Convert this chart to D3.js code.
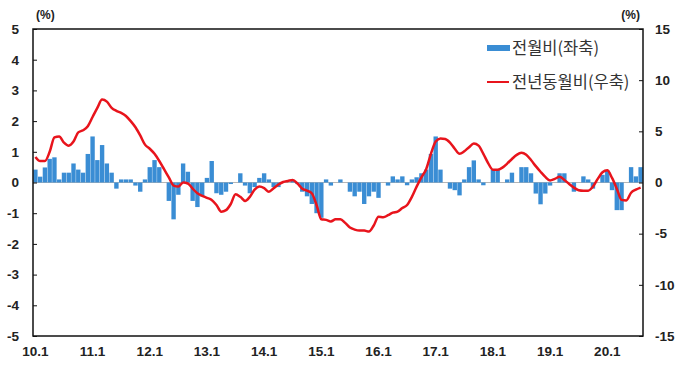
<!DOCTYPE html>
<html>
<head>
<meta charset="utf-8">
<script src="https://cdn.jsdelivr.net/npm/d3@7"></script>
<style>
  body { margin: 0; background: #fff; }
  .tick-lbl { font-family: "Liberation Sans", Arial, sans-serif; font-weight: bold; font-size: 13.5px; fill: #222; }
  .legend-lbl { font-family: "Noto Sans CJK KR", sans-serif; font-size: 16.5px; fill: #333; }
</style>
</head>
<body>
<div id="chart"></div>
<script>
// month categories 2010.1 .. 2020.8
var years = [10, 11, 12, 13, 14, 15, 16, 17, 18, 19, 20];
var months = [];
years.forEach(function(y) {
    for (var m = 1; m <= 12; m++) {
        if (y == 20 && m > 8) break;
        months.push(y + "." + m);
    }
});

var xTickLabels = ["10.1","11.1","12.1","13.1","14.1","15.1","16.1","17.1","18.1","19.1","20.1"];
var leftTicks = [-5,-4,-3,-2,-1,0,1,2,3,4,5];
var rightTicks = [-15,-10,-5,0,5,10,15];

// 전월비 (좌축, %)
var momValues = [
  0.42, 0.19, 0.49, 0.77, 0.82, 0.10, 0.32, 0.32, 0.62, 0.42, 0.32, 0.93,
  1.50, 0.73, 1.22, 0.62, 0.32, -0.20, 0.10, 0.10, 0.10, -0.10, -0.30, 0.10,
  0.50, 0.73, 0.50, 0.00, -0.60, -1.20, -0.40, 0.62, 0.35, -0.60, -0.80, -0.45,
  0.15, 0.70, -0.35, -0.40, -0.30, -0.05, 0.00, 0.30, -0.10, -0.35, -0.15, 0.15,
  0.30, 0.10, -0.15, -0.15, 0.00, 0.00, 0.08, -0.05, -0.30, -0.45, -0.70, -1.00,
  -1.15, 0.10, -0.10, 0.00, 0.10, 0.00, -0.30, -0.45, -0.30, -0.70, -0.45, -0.30,
  -0.50, 0.00, -0.10, 0.20, 0.10, 0.20, -0.09, 0.10, 0.17, 0.30, 0.42, 0.93,
  1.50, 0.42, 0.00, -0.20, -0.25, -0.42, 0.10, 0.50, 0.72, 0.10, -0.09, 0.00,
  0.42, 0.42, 0.00, 0.10, 0.32, 0.00, 0.50, 0.50, 0.30, -0.36, -0.71, -0.36,
  -0.10, 0.00, 0.30, 0.30, 0.00, -0.30, 0.00, 0.20, 0.10, -0.20, 0.00, 0.25,
  0.40, -0.25, -0.90, -0.90, 0.00, 0.50, 0.20, 0.50
];

// 전년동월비 (우축, %)
var yoyValues = [
  2.5, 2.1, 2.1, 3.0, 4.4, 4.5, 3.9, 3.6, 4.0, 4.9, 5.1, 5.5,
  6.4, 7.3, 8.1, 7.9, 7.3, 7.0, 6.8, 6.5, 6.0, 5.4, 4.6, 3.7,
  3.3, 2.8, 2.1, 1.3, 0.5, -0.3, -0.4, 0.0, -0.1, -0.6, -1.05, -1.3,
  -1.5, -1.7, -2.2, -2.85, -2.7, -2.1, -1.15, -1.4, -1.8, -1.4, -0.7, -0.4,
  -0.55, -0.9, -0.55, -0.2, 0.05, 0.15, 0.25, -0.1, -0.6, -0.8, -1.05, -2.2,
  -3.6, -3.65, -3.8, -3.6, -3.6, -3.95, -4.4, -4.6, -4.7, -4.7, -4.8, -4.2,
  -3.35, -3.4, -3.2, -2.95, -2.85, -2.5, -2.2, -1.4, -0.4, 0.5, 1.3, 2.8,
  4.0, 4.3, 4.25, 3.9, 3.3, 2.8, 3.05, 3.45, 3.8, 3.6, 2.8, 1.9,
  1.25, 1.25, 1.45, 1.85, 2.3, 2.7, 2.9, 2.7, 2.2, 1.6, 1.05, 0.55,
  0.2, 0.35, 0.55, 0.25, -0.15, -0.5, -0.75, -0.8, -0.8, -0.4, 0.35, 1.0,
  1.2, 0.45, -0.6, -1.7, -1.75, -1.0, -0.7, -0.5
];

var width = 700, height = 368;
var margin = {top: 29, right: 57, bottom: 32, left: 33};

var svg = d3.select("#chart").append("svg")
    .attr("width", width)
    .attr("height", height);

var x = d3.scaleBand()
    .domain(months)
    .range([margin.left, width - margin.right])
    .paddingInner(0.08)
    .paddingOuter(0.04);

var yLeft = d3.scaleLinear()
    .domain([-5, 5])
    .range([height - margin.bottom, margin.top]);

var yRight = d3.scaleLinear()
    .domain([-15, 15])
    .range([height - margin.bottom, margin.top]);

var plotL = margin.left, plotR = width - margin.right;
var plotT = margin.top, plotB = height - margin.bottom;

// zero line
svg.append("line")
    .attr("x1", plotL).attr("x2", plotR)
    .attr("y1", yLeft(0)).attr("y2", yLeft(0))
    .attr("stroke", "#b5b5b5")
    .attr("stroke-width", 1);

// bars
svg.append("g").selectAll("rect")
    .data(momValues)
    .enter().append("rect")
    .attr("x", function(d, i) { return x(months[i]); })
    .attr("width", x.bandwidth())
    .attr("y", function(d) { return yLeft(Math.max(0, d)); })
    .attr("height", function(d) { return Math.abs(yLeft(d) - yLeft(0)); })
    .attr("fill", "#3a8dd4");

// line
var line = d3.line()
    .x(function(d, i) { return x(months[i]) + x.bandwidth() / 2; })
    .y(function(d) { return yRight(d); })
    .curve(d3.curveMonotoneX);

svg.append("path")
    .datum(yoyValues)
    .attr("d", line)
    .attr("fill", "none")
    .attr("stroke", "#e8141c")
    .attr("stroke-width", 2.5)
    .attr("stroke-linejoin", "round");

// frame
svg.append("rect")
    .attr("x", plotL).attr("y", plotT)
    .attr("width", plotR - plotL)
    .attr("height", plotB - plotT)
    .attr("fill", "none")
    .attr("stroke", "#111")
    .attr("stroke-width", 1.5);

// plain hyphen minus like the original
var fmt = function(d) { return String(d); };

// left axis (ticks point inward)
var axisL = d3.axisLeft(yLeft).tickValues(leftTicks).tickSize(-4).tickPadding(14)
    .tickFormat(fmt);
var gL = svg.append("g").attr("transform", "translate(" + plotL + ",0)").call(axisL);
gL.select(".domain").remove();
gL.selectAll("line").attr("stroke", "#111");
gL.selectAll("text").attr("class", "tick-lbl").attr("fill", null);

// right axis
var axisR = d3.axisRight(yRight).tickValues(rightTicks).tickSize(-4).tickPadding(12)
    .tickFormat(fmt);
var gR = svg.append("g").attr("transform", "translate(" + plotR + ",0)").call(axisR);
gR.select(".domain").remove();
gR.selectAll("line").attr("stroke", "#111");
gR.selectAll("text").attr("class", "tick-lbl").attr("fill", null);

// x axis labels
var axisX = d3.axisBottom(x).tickValues(xTickLabels).tickSize(0).tickPadding(10);
var gX = svg.append("g").attr("transform", "translate(0," + plotB + ")").call(axisX);
gX.select(".domain").remove();
gX.selectAll("text").attr("class", "tick-lbl").attr("fill", null);

// unit labels
svg.append("text").attr("class", "tick-lbl").attr("x", 36).attr("y", 19)
    .style("font-size", "12px").text("(%)");
svg.append("text").attr("class", "tick-lbl").attr("x", 640).attr("y", 19)
    .attr("text-anchor", "end").style("font-size", "12px").text("(%)");

// legend
var leg = svg.append("g");
leg.append("rect")
    .attr("x", 487).attr("y", 45).attr("width", 23).attr("height", 6)
    .attr("fill", "#3a8dd4");
leg.append("text").attr("class", "legend-lbl")
    .attr("x", 512).attr("y", 54).text("전월비(좌축)");
leg.append("line")
    .attr("x1", 487).attr("x2", 509).attr("y1", 82).attr("y2", 82)
    .attr("stroke", "#e8141c").attr("stroke-width", 2);
leg.append("text").attr("class", "legend-lbl")
    .attr("x", 512).attr("y", 88).text("전년동월비(우축)");
</script>
</body>
</html>
